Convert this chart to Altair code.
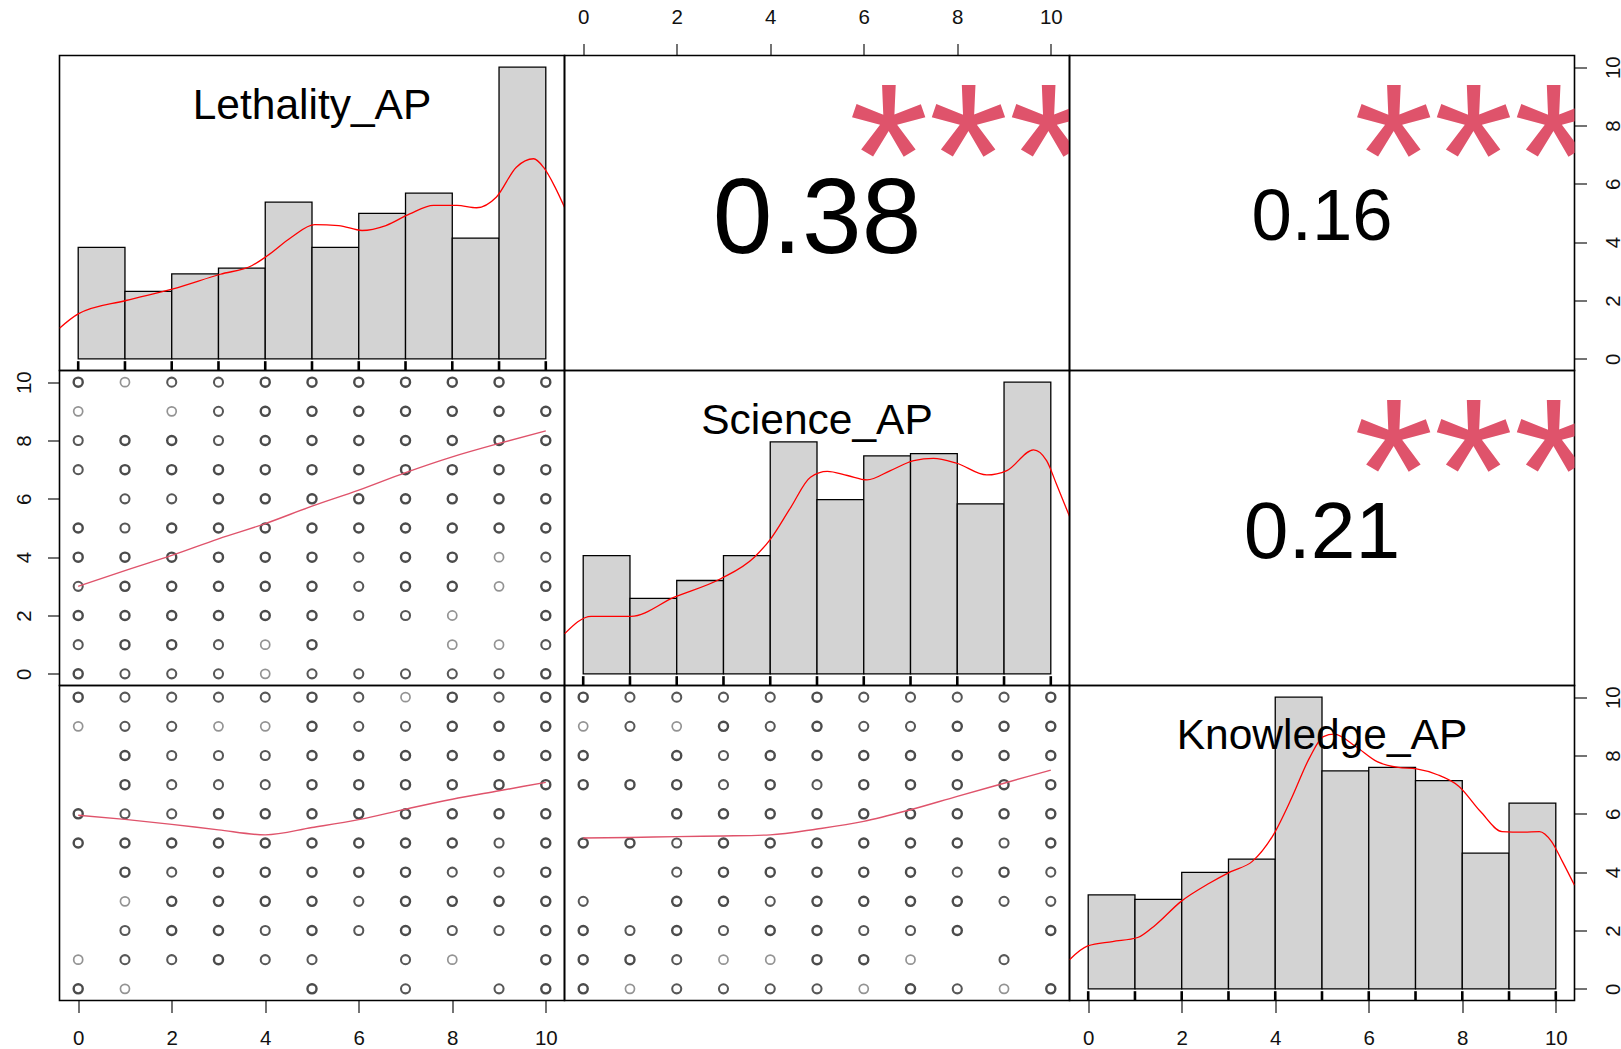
import altair as alt
import pandas as pd

# ---------------- data ----------------
VARS = ["Lethality_AP", "Science_AP", "Knowledge_AP"]
BIN_START = [0, 1, 2, 3, 4, 5, 6, 7, 8, 9]
BIN_END = [1, 2, 3, 4, 5, 6, 7, 8, 9, 10]
RUG_VALUES = [0, 1, 2, 3, 4, 5, 6, 7, 8, 9, 10]
TICK_VALUES = [0, 2, 4, 6, 8, 10]

# histogram bar heights, relative (tallest bar = 10 on the 0-10 axis scale)
HIST_LETH = [3.82, 2.31, 2.91, 3.11, 5.37, 3.82, 4.99, 5.68, 4.14, 10.0]
HIST_SCI = [4.05, 2.59, 3.20, 4.05, 7.95, 5.97, 7.47, 7.55, 5.83, 10.0]
HIST_KNOW = [3.22, 3.07, 3.99, 4.45, 10.0, 7.47, 7.59, 7.14, 4.65, 6.37]

# density curves (same relative scale)
DENS_LETH_X = [-0.4, 0.0, 1.02, 2.03, 3.04, 3.72, 4.05, 4.56, 5.06, 5.57, 6.07, 6.58, 7.09, 7.6, 8.1, 8.52, 8.94, 9.37, 9.74, 9.95, 10.2, 10.4]
DENS_LETH_Y = [1.05, 1.54, 2.0, 2.4, 2.9, 3.2, 3.54, 4.17, 4.6, 4.57, 4.4, 4.57, 4.97, 5.26, 5.26, 5.18, 5.54, 6.57, 6.86, 6.57, 5.88, 5.2]
DENS_SCI_X = [-0.4, 0.17, 1.02, 1.95, 2.94, 3.66, 4.01, 4.44, 4.86, 5.22, 5.65, 6.07, 6.57, 7.07, 7.49, 7.99, 8.63, 9.06, 9.63, 9.91, 10.12, 10.4]
DENS_SCI_Y = [1.37, 1.97, 1.97, 2.63, 3.26, 4.0, 4.63, 5.71, 6.74, 6.94, 6.8, 6.65, 6.97, 7.31, 7.39, 7.22, 6.82, 6.97, 7.68, 7.31, 6.51, 5.4]
DENS_KNOW_X = [-0.4, -0.01, 0.52, 1.06, 1.44, 1.98, 2.59, 3.05, 3.51, 3.96, 4.35, 4.73, 5.03, 5.26, 5.72, 6.18, 6.63, 7.02, 7.47, 7.93, 8.39, 8.85, 9.3, 9.65, 9.91, 10.14, 10.4]
DENS_KNOW_Y = [1.0, 1.47, 1.62, 1.76, 2.19, 2.99, 3.62, 4.02, 4.37, 5.28, 6.54, 7.91, 8.65, 8.73, 8.31, 7.79, 7.59, 7.54, 7.34, 6.94, 6.08, 5.39, 5.37, 5.39, 5.05, 4.37, 3.55]

# correlations and significance stars
CORR_VALUES = [0.38, 0.16, 0.21]
CORR_STARS = ["***", "***", "***"]

# scatter grids: rows y = 10 .. 0, columns x = 0 .. 10
# '.' no point, 'l' light (single), 'm' medium, 'b' bold (overplotted)
GRID_SCI_VS_LETH = [
    "b l m m b b b b b b b",
    "l . l m b b b b b b b",
    "m b b m b b b b b b b",
    "m b b b b b b b b b b",
    ". m m b b b b b b b b",
    "b m b b b b b b b b b",
    "b b b b b b m b b l m",
    "m b b b b b m b b l b",
    "b b b b b b m m l . b",
    "m b b m l b . . l l m",
    "b m m m l m m m m m b",
]
GRID_KNOW_VS_LETH = [
    "b m m m m b m l b m b",
    "l m m l l b m m b b b",
    ". b m m m b b b b b b",
    ". b m m m b b b b b b",
    "b m m b b b b b b b b",
    "b b b b b b b b b m b",
    ". b m b b b b b m m b",
    ". l b b b b m b b b b",
    ". m b b m b m b m m b",
    "l m m b m m . m l . b",
    "b l . . . b . m . m b",
]
GRID_KNOW_VS_SCI = [
    "b m m m m b m m m m b",
    "l m l b m b m m b b b",
    "b . b m b b b b b b b",
    "b b b m b m b b b b b",
    ". . b b b b b b b b b",
    "b b m b b b b b b m b",
    ". . m b b b b b m b m",
    "m . b b m b b b b m m",
    "b m b m b b m m b . b",
    "b b m l l b b l . m .",
    "b l m m m m l b m l b",
]

# smoothed (lowess) lines
LOW_X = [0, 1, 2, 3, 4, 5, 6, 7, 8, 9, 10]
LOW_SCI_ON_LETH = [3.0, 3.54, 4.06, 4.63, 5.15, 5.75, 6.3, 6.9, 7.44, 7.9, 8.33]
LOW_KNOW_ON_LETH = [5.95, 5.81, 5.64, 5.45, 5.28, 5.53, 5.8, 6.16, 6.5, 6.79, 7.08]
LOW_KNOW_ON_SCI = [5.17, 5.19, 5.22, 5.24, 5.28, 5.48, 5.74, 6.14, 6.6, 7.05, 7.5]

# ---------------- styling ----------------
FONT = "Liberation Sans"
PW, PH = 505, 315
SC = alt.Scale(domain=[-0.4, 10.4], nice=False, zero=False)
STAR_COL = "#DF536B"
BASE_CEX = 205


def axis(orient):
    if orient is None:
        return None
    common = dict(values=TICK_VALUES, tickSize=12, tickWidth=1.1, tickColor="black",
                  labelFontSize=20.5, labelFont=FONT, labelColor="#111",
                  domain=False, grid=False, title=None, labelFlush=False, labelOverlap=False)
    if orient == "bottom":
        return alt.Axis(orient="bottom", labelPadding=16, **common)
    if orient == "top":
        return alt.Axis(orient="top", labelPadding=16, **common)
    if orient == "left":
        return alt.Axis(orient="left", labelPadding=13, labelAngle=270,
                        labelAlign="center", labelBaseline="bottom", **common)
    return alt.Axis(orient="right", labelPadding=17, labelAngle=270,
                    labelAlign="center", labelBaseline="top", **common)


def X(field, ax):
    return alt.X(field, type="quantitative", scale=SC, axis=ax)


def Y(field, ax):
    return alt.Y(field, type="quantitative", scale=SC, axis=ax)


def hist_panel(name, heights, dx, dy, xax, yax):
    bars = pd.DataFrame({"b0": BIN_START, "b1": BIN_END, "h": heights})
    dens = pd.DataFrame({"x": dx, "y": dy})
    rug = pd.DataFrame({"v": RUG_VALUES})
    lab = pd.DataFrame({"x": [5.0], "y": [8.6], "t": [name]})
    xa, ya = axis(xax), axis(yax)
    l_bars = alt.Chart(bars).mark_rect(fill="#D3D3D3", stroke="black", strokeWidth=1.3).encode(
        x=X("b0", xa), x2="b1", y=Y("h", ya), y2=alt.Y2Datum(0))
    l_rug = alt.Chart(rug).mark_rule(color="black", strokeWidth=2.6).encode(
        x=X("v", xa), y=alt.YDatum(-0.4, type="quantitative", scale=SC, axis=ya),
        y2=alt.Y2Datum(-0.08))
    l_dens = alt.Chart(dens).mark_line(color="#FF0000", strokeWidth=1.3, clip=True,
                                       interpolate="monotone").encode(
        x=X("x", xa), y=Y("y", ya), order="x:Q")
    l_lab = alt.Chart(lab).mark_text(font=FONT, fontSize=42.5, color="black",
                                     baseline="alphabetic", dy=11).encode(
        x=X("x", xa), y=Y("y", ya), text="t:N")
    return alt.layer(l_bars, l_rug, l_dens, l_lab).properties(width=PW, height=PH)


def corr_panel(r, stars, xax, yax):
    size = BASE_CEX * (abs(r) + 0.3) / 1.3
    txt = pd.DataFrame({"x": [5.0], "y": [5.0], "t": [f"{r:.2f}"]})
    st = pd.DataFrame({"x": [8.24], "y": [8.24], "t": [stars]})
    xa, ya = axis(xax), axis(yax)
    l_txt = alt.Chart(txt).mark_text(font=FONT, fontSize=size, color="black",
                                     baseline="alphabetic", dy=0.37 * size).encode(
        x=X("x", xa), y=Y("y", ya), text="t:N")
    l_st = alt.Chart(st).mark_text(font=FONT, fontSize=BASE_CEX, color=STAR_COL,
                                   baseline="alphabetic", dy=0.525 * BASE_CEX, clip=True).encode(
        x=X("x", xa), y=Y("y", ya), text="t:N")
    return alt.layer(l_txt, l_st).properties(width=PW, height=PH)


def scatter_panel(grid, low_y, xax, yax):
    rows = []
    for i, line in enumerate(grid):
        yv = 10 - i
        for xv, c in enumerate(line.split()):
            if c != ".":
                rows.append({"x": xv, "y": yv, "lvl": c})
    pts = pd.DataFrame(rows)
    low = pd.DataFrame({"x": LOW_X, "y": low_y})
    xa, ya = axis(xax), axis(yax)
    l_pts = alt.Chart(pts).mark_point(shape="circle", filled=False, size=82).encode(
        x=X("x", xa), y=Y("y", ya),
        color=alt.Color("lvl:N", scale=alt.Scale(domain=["l", "m", "b"],
                                                 range=["#666666", "#111111", "#000000"]), legend=None),
        strokeWidth=alt.StrokeWidth("lvl:N", scale=alt.Scale(domain=["l", "m", "b"],
                                                             range=[1.7, 2.4, 3.2]), legend=None))
    l_low = alt.Chart(low).mark_line(color=STAR_COL, strokeWidth=1.4, interpolate="monotone").encode(
        x=X("x", xa), y=Y("y", ya))
    return alt.layer(l_pts, l_low).properties(width=PW, height=PH)


panels = [
    hist_panel(VARS[0], HIST_LETH, DENS_LETH_X, DENS_LETH_Y, None, None),
    corr_panel(CORR_VALUES[0], CORR_STARS[0], "top", None),
    corr_panel(CORR_VALUES[1], CORR_STARS[1], None, "right"),
    scatter_panel(GRID_SCI_VS_LETH, LOW_SCI_ON_LETH, None, "left"),
    hist_panel(VARS[1], HIST_SCI, DENS_SCI_X, DENS_SCI_Y, None, None),
    corr_panel(CORR_VALUES[2], CORR_STARS[2], None, None),
    scatter_panel(GRID_KNOW_VS_LETH, LOW_KNOW_ON_LETH, "bottom", None),
    scatter_panel(GRID_KNOW_VS_SCI, LOW_KNOW_ON_SCI, None, None),
    hist_panel(VARS[2], HIST_KNOW, DENS_KNOW_X, DENS_KNOW_Y, "bottom", "right"),
]

chart = alt.concat(*panels, columns=3, spacing=0, bounds="flush").resolve_scale(
    color="independent", strokeWidth="independent"
).configure_view(stroke="black", strokeWidth=1.6).properties(
    padding={"left": 13.5, "top": 6.5, "right": -5, "bottom": -3},
    background="white",
)

chart.save("out.html", embed_options={"renderer": "svg", "actions": False})
